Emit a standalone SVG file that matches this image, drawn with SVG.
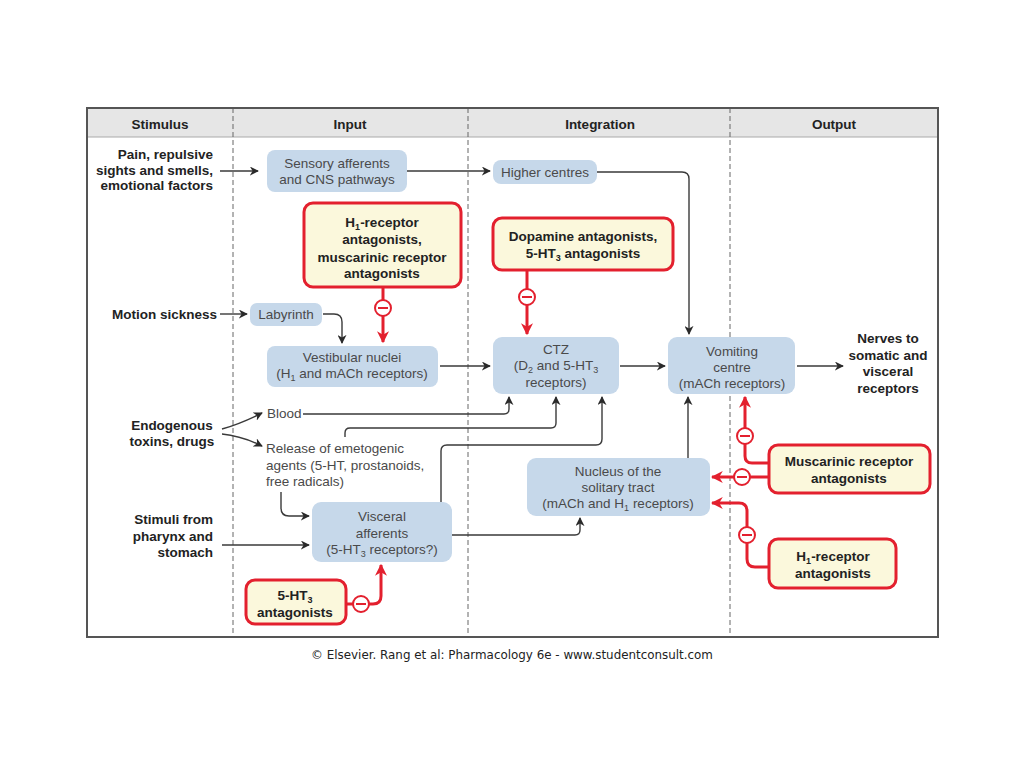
<svg xmlns="http://www.w3.org/2000/svg" width="1024" height="768" viewBox="0 0 1024 768">
<defs>
<marker id="ah" viewBox="0 0 10 10" refX="9" refY="5" markerWidth="9" markerHeight="9" markerUnits="userSpaceOnUse" orient="auto">
<path d="M0,0 L10,5 L0,10 L3,5 z" fill="#2a2a2a"/>
</marker>
<marker id="ahr" viewBox="0 0 10 10" refX="9" refY="5" markerWidth="12" markerHeight="12" markerUnits="userSpaceOnUse" orient="auto">
<path d="M0,0 L10,5 L0,10 L3,5 z" fill="#e3202e"/>
</marker>
<g id="inh">
<circle cx="0" cy="0" r="8" fill="#fff" stroke="#e3202e" stroke-width="2"/>
<line x1="-5" y1="0" x2="5" y2="0" stroke="#e3202e" stroke-width="2"/>
</g>
</defs>
<style>
text{font-family:"Liberation Sans",Arial,sans-serif;font-size:13.5px}
.hd{font-weight:bold;fill:#222;text-anchor:middle}
.st{font-weight:bold;fill:#222}
.nd{fill:#c6d8ea}
.nt{fill:#4a4a4a;text-anchor:middle}
.rb{fill:#fbf8dc;stroke:#e3202e;stroke-width:3}
.rt{font-weight:bold;fill:#222;text-anchor:middle}
.c{fill:none;stroke:#3a3a3a;stroke-width:1.4}
.r{fill:none;stroke:#e3202e;stroke-width:3}
.div{stroke:#666;stroke-width:1;stroke-dasharray:5,3}
</style>
<rect width="1024" height="768" fill="#fff"/>
<g id="frame">
<rect x="87" y="108" width="851" height="29" fill="#e6e6e6"/>
<line x1="87" y1="137" x2="938" y2="137" stroke="#aaa" stroke-width="1"/>
<line class="div" x1="233" y1="108" x2="233" y2="637"/>
<line class="div" x1="468" y1="108" x2="468" y2="637"/>
<line class="div" x1="730" y1="108" x2="730" y2="637"/>
<rect x="87" y="108" width="851" height="529" fill="none" stroke="#555" stroke-width="2"/>
<text class="hd" x="160" y="129">Stimulus</text>
<text class="hd" x="350" y="129">Input</text>
<text class="hd" x="600" y="129">Integration</text>
<text class="hd" x="834" y="129">Output</text>
</g>
<g id="stimuli">
<text class="st" text-anchor="end" x="213" y="159">Pain, repulsive</text>
<text class="st" text-anchor="end" x="213" y="175">sights and smells,</text>
<text class="st" text-anchor="end" x="213" y="190">emotional factors</text>
<text class="st" text-anchor="end" x="217" y="319">Motion sickness</text>
<text class="st" text-anchor="middle" x="172" y="430">Endogenous</text>
<text class="st" text-anchor="middle" x="172" y="446">toxins, drugs</text>
<text class="st" text-anchor="end" x="213" y="524">Stimuli from</text>
<text class="st" text-anchor="end" x="213" y="541">pharynx and</text>
<text class="st" text-anchor="end" x="213" y="557">stomach</text>
<text class="st" text-anchor="middle" x="888" y="343">Nerves to</text>
<text class="st" text-anchor="middle" x="888" y="360">somatic and</text>
<text class="st" text-anchor="middle" x="888" y="376">visceral</text>
<text class="st" text-anchor="middle" x="888" y="393">receptors</text>
</g>
<g id="sensory">
<rect class="nd" x="267" y="150" width="140" height="42" rx="8"/>
<text class="nt" x="337" y="168">Sensory afferents</text>
<text class="nt" x="337" y="184">and CNS pathways</text>
</g>
<g id="higher">
<rect class="nd" x="493" y="160" width="104" height="24" rx="8"/>
<text class="nt" x="545" y="177">Higher centres</text>
</g>
<g id="h1-muscarinic">
<rect class="rb" x="304" y="203" width="157" height="84" rx="9"/>
<text class="rt" x="382" y="227">H<tspan font-size="9" dy="3">1</tspan><tspan dy="-3">-receptor</tspan></text>
<text class="rt" x="382" y="244">antagonists,</text>
<text class="rt" x="382" y="262">muscarinic receptor</text>
<text class="rt" x="382" y="278">antagonists</text>
</g>
<g id="dopamine">
<rect class="rb" x="493" y="218" width="180" height="52" rx="9"/>
<text class="rt" x="583" y="241">Dopamine antagonists,</text>
<text class="rt" x="583" y="258">5-HT<tspan font-size="9" dy="3">3</tspan><tspan dy="-3"> antagonists</tspan></text>
</g>
<g id="labyrinth">
<rect class="nd" x="250" y="303" width="72" height="23" rx="7"/>
<text class="nt" x="286" y="319">Labyrinth</text>
</g>
<g id="vestibular">
<rect class="nd" x="267" y="346" width="171" height="41" rx="8"/>
<text class="nt" x="352" y="362">Vestibular nuclei</text>
<text class="nt" x="352" y="378">(H<tspan font-size="9" dy="3">1</tspan><tspan dy="-3"> and mACh receptors)</tspan></text>
</g>
<g id="ctz">
<rect class="nd" x="493" y="337" width="126" height="57" rx="9"/>
<text class="nt" x="556" y="354">CTZ</text>
<text class="nt" x="556" y="370">(D<tspan font-size="9" dy="3">2</tspan><tspan dy="-3"> and 5-HT</tspan><tspan font-size="9" dy="3">3</tspan></text>
<text class="nt" x="556" y="387">receptors)</text>
</g>
<g id="vomiting">
<rect class="nd" x="668" y="337" width="127" height="57" rx="9"/>
<text class="nt" x="732" y="356">Vomiting</text>
<text class="nt" x="732" y="372">centre</text>
<text class="nt" x="732" y="388">(mACh receptors)</text>
</g>
<g id="blood">
<text fill="#4a4a4a" x="267" y="418">Blood</text>
</g>
<g id="release">
<text fill="#4a4a4a" x="266" y="453">Release of emetogenic</text>
<text fill="#4a4a4a" x="266" y="470">agents (5-HT, prostanoids,</text>
<text fill="#4a4a4a" x="266" y="486">free radicals)</text>
</g>
<g id="nts">
<rect class="nd" x="527" y="458" width="183" height="58" rx="9"/>
<text class="nt" x="618" y="476">Nucleus of the</text>
<text class="nt" x="618" y="492">solitary tract</text>
<text class="nt" x="618" y="508">(mACh and H<tspan font-size="9" dy="3">1</tspan><tspan dy="-3"> receptors)</tspan></text>
</g>
<g id="visceral">
<rect class="nd" x="312" y="502" width="140" height="60" rx="9"/>
<text class="nt" x="382" y="521">Visceral</text>
<text class="nt" x="382" y="538">afferents</text>
<text class="nt" x="382" y="554">(5-HT<tspan font-size="9" dy="3">3</tspan><tspan dy="-3"> receptors?)</tspan></text>
</g>
<g id="muscarinic">
<rect class="rb" x="769" y="445" width="161" height="48" rx="9"/>
<text class="rt" x="849" y="466">Muscarinic receptor</text>
<text class="rt" x="849" y="483">antagonists</text>
</g>
<g id="h1">
<rect class="rb" x="769" y="539" width="127" height="49" rx="9"/>
<text class="rt" x="833" y="561">H<tspan font-size="9" dy="3">1</tspan><tspan dy="-3">-receptor</tspan></text>
<text class="rt" x="833" y="578">antagonists</text>
</g>
<g id="ht3">
<rect class="rb" x="246" y="580" width="100" height="44" rx="9"/>
<text class="rt" x="295" y="600">5-HT<tspan font-size="9" dy="3">3</tspan></text>
<text class="rt" x="295" y="617">antagonists</text>
</g>
<g id="connectors">
<path class="c" d="M220,171 H258" marker-end="url(#ah)"/>
<path class="c" d="M407,171 H490" marker-end="url(#ah)"/>
<path class="c" d="M597,172 H682 Q689,172 689,179 V334" marker-end="url(#ah)"/>
<path class="c" d="M220,314 H247" marker-end="url(#ah)"/>
<path class="c" d="M323,314 H334 Q342,314 342,322 V343" marker-end="url(#ah)"/>
<path class="c" d="M440,366 H490" marker-end="url(#ah)"/>
<path class="c" d="M620,366 H665" marker-end="url(#ah)"/>
<path class="c" d="M797,366 H843" marker-end="url(#ah)"/>
<path class="c" d="M222,429 Q240,424 262,413" marker-end="url(#ah)"/>
<path class="c" d="M222,434 Q242,436 262,446" marker-end="url(#ah)"/>
<path class="c" d="M303,414 H504 Q509,414 509,409 V397" marker-end="url(#ah)"/>
<path class="c" d="M345,437 V433 Q345,428 350,428 H551 Q556,428 556,423 V397" marker-end="url(#ah)"/>
<path class="c" d="M441,502 V451 Q441,445 447,445 H596 Q602,445 602,439 V397" marker-end="url(#ah)"/>
<path class="c" d="M281,492 V508 Q281,516 289,516 H309" marker-end="url(#ah)"/>
<path class="c" d="M222,545 H309" marker-end="url(#ah)"/>
<path class="c" d="M452,535 H575 Q580,535 580,530 V518" marker-end="url(#ah)"/>
<path class="c" d="M688,458 V397" marker-end="url(#ah)"/>
<path class="r" d="M383,288 V342" marker-end="url(#ahr)"/>
<path class="r" d="M527,270 V334" marker-end="url(#ahr)"/>
<path class="r" d="M769,463 H752 Q745,463 745,456 V397" marker-end="url(#ahr)"/>
<path class="r" d="M769,477 H712" marker-end="url(#ahr)"/>
<path class="r" d="M769,567 H755 Q747,567 747,559 V511 Q747,503 739,503 H712" marker-end="url(#ahr)"/>
<path class="r" d="M346,604 H373 Q381,604 381,596 V565" marker-end="url(#ahr)"/>
<use href="#inh" x="383" y="308"/>
<use href="#inh" x="527" y="297"/>
<use href="#inh" x="745" y="436"/>
<use href="#inh" x="742" y="477"/>
<use href="#inh" x="747" y="535"/>
<use href="#inh" x="361" y="604"/>
</g>
<text x="512" y="659" text-anchor="middle" style="font-family:'DejaVu Sans',Verdana,sans-serif;font-size:11.9px" fill="#222">© Elsevier. Rang et al: Pharmacology 6e - www.studentconsult.com</text>
</svg>
